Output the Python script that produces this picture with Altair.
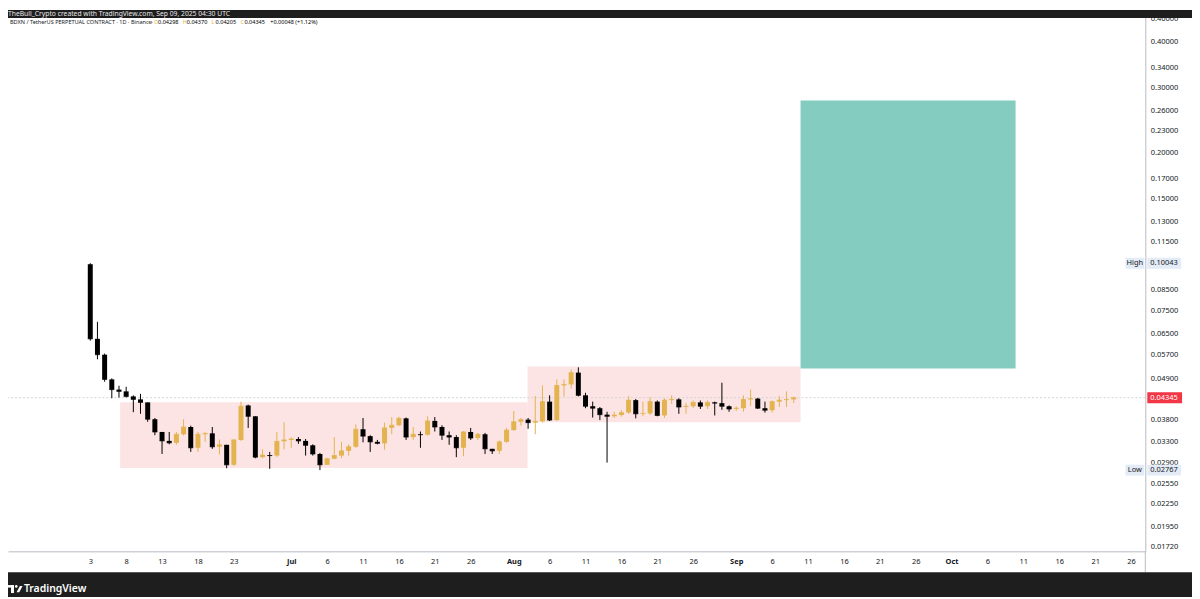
import altair as alt
import pandas as pd

# ---------------- data ----------------
START_DATE = "2025-06-03"   # first daily candle

opens = [0.0998, 0.0627, 0.0568, 0.0487, 0.0457, 0.0452, 0.0438, 0.0430, 0.0422, 0.0380,
         0.0351, 0.0332, 0.0328, 0.0346, 0.0362, 0.0318, 0.0346, 0.0348, 0.0320, 0.0324,
         0.0286, 0.0334, 0.0414, 0.0387, 0.0300, 0.0304, 0.0303, 0.0331, 0.0334, 0.0336,
         0.0332, 0.0323, 0.0306, 0.0286, 0.0297, 0.0303, 0.0312, 0.0320, 0.0357, 0.0342,
         0.0330, 0.0327, 0.0360, 0.0366, 0.0382, 0.0340, 0.0346, 0.0345, 0.0376, 0.0362,
         0.0344, 0.0340, 0.0318, 0.0351, 0.0338, 0.0346, 0.0316, 0.0312, 0.0330, 0.0355,
         0.0374, 0.0379, 0.0372, 0.0375, 0.0424, 0.0378, 0.0469, 0.0472, 0.0508, 0.0441,
         0.0412, 0.0407, 0.0391, 0.0387, 0.0390, 0.0396, 0.0428, 0.0393, 0.0394, 0.0424,
         0.0389, 0.0428, 0.0430, 0.0410, 0.0412, 0.0422, 0.0412, 0.0422, 0.0420, 0.0412,
         0.0405, 0.0407, 0.0430, 0.0432, 0.0407, 0.0402, 0.0424, 0.0428, 0.04298]
highs = [0.10043, 0.0697, 0.0572, 0.0490, 0.0468, 0.0465, 0.0441, 0.0445, 0.0422, 0.0383,
         0.0351, 0.0351, 0.0351, 0.0380, 0.0365, 0.0351, 0.0350, 0.0362, 0.0335, 0.0324,
         0.0336, 0.0424, 0.0416, 0.0387, 0.0315, 0.0310, 0.0351, 0.0373, 0.0340, 0.0340,
         0.0336, 0.0325, 0.0308, 0.0299, 0.0340, 0.0330, 0.0325, 0.0368, 0.0383, 0.0344,
         0.0334, 0.0372, 0.0385, 0.0386, 0.0384, 0.0362, 0.0352, 0.0387, 0.0385, 0.0366,
         0.0352, 0.0344, 0.0353, 0.0360, 0.0349, 0.0349, 0.0316, 0.0333, 0.0360, 0.0400,
         0.0383, 0.0383, 0.0439, 0.0469, 0.0441, 0.0487, 0.0487, 0.0518, 0.0525, 0.0448,
         0.0424, 0.0410, 0.0398, 0.0398, 0.0402, 0.0439, 0.0431, 0.0424, 0.0436, 0.0427,
         0.0433, 0.0441, 0.0433, 0.0420, 0.0427, 0.0427, 0.0427, 0.0424, 0.0477, 0.0414,
         0.0412, 0.0441, 0.0457, 0.0434, 0.0424, 0.0427, 0.0439, 0.0452, 0.04370]
lows = [0.0620, 0.0552, 0.0480, 0.0433, 0.0435, 0.0435, 0.0397, 0.0393, 0.0374, 0.0344,
        0.0306, 0.0325, 0.0324, 0.0343, 0.0310, 0.0310, 0.0330, 0.0316, 0.0305, 0.0280,
        0.0284, 0.0332, 0.0360, 0.0298, 0.0298, 0.0279, 0.0300, 0.0315, 0.0318, 0.0326,
        0.0303, 0.0303, 0.02767, 0.0286, 0.0296, 0.0298, 0.0303, 0.0318, 0.0329, 0.0310,
        0.0325, 0.0314, 0.0346, 0.0364, 0.0334, 0.0334, 0.0318, 0.0343, 0.0352, 0.0334,
        0.0324, 0.0300, 0.0302, 0.0334, 0.0334, 0.0306, 0.0306, 0.0306, 0.0328, 0.0354,
        0.0365, 0.0358, 0.0346, 0.0372, 0.0376, 0.0376, 0.0437, 0.0460, 0.0438, 0.0407,
        0.0384, 0.0378, 0.0290, 0.0383, 0.0386, 0.0393, 0.0382, 0.0387, 0.0390, 0.0387,
        0.0383, 0.0418, 0.0393, 0.0393, 0.0407, 0.0405, 0.0405, 0.0389, 0.0403, 0.0398,
        0.0400, 0.0398, 0.0412, 0.0405, 0.0396, 0.0396, 0.0410, 0.0410, 0.04205]
closes = [0.0627, 0.0568, 0.0487, 0.0457, 0.0452, 0.0438, 0.0430, 0.0422, 0.0380, 0.0351,
          0.0332, 0.0328, 0.0346, 0.0362, 0.0318, 0.0346, 0.0348, 0.0320, 0.0324, 0.0286,
          0.0334, 0.0412, 0.0387, 0.0300, 0.0304, 0.0303, 0.0331, 0.0334, 0.0336, 0.0332,
          0.0323, 0.0306, 0.0286, 0.0297, 0.0303, 0.0312, 0.0320, 0.0357, 0.0342, 0.0330,
          0.0327, 0.0360, 0.0366, 0.0382, 0.0340, 0.0346, 0.0345, 0.0376, 0.0362, 0.0344,
          0.0340, 0.0318, 0.0351, 0.0338, 0.0346, 0.0316, 0.0312, 0.0330, 0.0355, 0.0374,
          0.0379, 0.0372, 0.0375, 0.0424, 0.0378, 0.0469, 0.0472, 0.0508, 0.0441, 0.0412,
          0.0407, 0.0391, 0.0387, 0.0390, 0.0396, 0.0428, 0.0393, 0.0394, 0.0424, 0.0389,
          0.0428, 0.0430, 0.0410, 0.0412, 0.0422, 0.0412, 0.0422, 0.0420, 0.0412, 0.0405,
          0.0407, 0.0430, 0.0432, 0.0407, 0.0402, 0.0424, 0.0428, 0.04298, 0.04345]

# zone rectangles (start, end, low, high, colour)
box_start = ["2025-06-07T04:00:00Z", "2025-08-02T22:00:00Z", "2025-09-09T23:00:00Z"]
box_end = ["2025-08-02T22:00:00Z", "2025-09-09T23:00:00Z", "2025-10-09T22:00:00Z"]
box_low = [0.02805, 0.03731, 0.05211]
box_high = [0.04221, 0.05275, 0.2769]
box_color = ["#fce4e4", "#fce4e4", "#84ccbf"]

x_ticks = ["2025-06-03", "2025-06-08", "2025-06-13", "2025-06-18", "2025-06-23",
           "2025-07-01", "2025-07-06", "2025-07-11", "2025-07-16", "2025-07-21", "2025-07-26",
           "2025-08-01", "2025-08-06", "2025-08-11", "2025-08-16", "2025-08-21", "2025-08-26",
           "2025-09-01", "2025-09-06", "2025-09-11", "2025-09-16", "2025-09-21", "2025-09-26",
           "2025-10-01", "2025-10-06", "2025-10-11", "2025-10-16", "2025-10-21", "2025-10-26"]
x_domain = ["2025-05-23T05:31:00Z", "2025-10-27T07:12:00Z"]

y_ticks = [0.46, 0.40, 0.34, 0.30, 0.26, 0.23, 0.20, 0.17, 0.15, 0.13, 0.115,
           0.085, 0.075, 0.065, 0.057, 0.049, 0.038, 0.033, 0.029, 0.0255,
           0.0225, 0.0195, 0.0172]
y_domain = [0.016686, 0.4864]

range_tags = ["High", "Low"]
range_values = [0.10043, 0.02767]
last_price = 0.04345

top_note = "TheBull_Crypto created with TradingView.com, Sep 09, 2025 04:30 UTC"
symbol_title = "BDXN / TetherUS PERPETUAL CONTRACT · 1D · Binance"
ohlc_letters = ["O", "H", "L", "C"]
ohlc_values = ["0.04298", "0.04370", "0.04205", "0.04345"]
change_text = "+0.00048 (+1.12%)"
brand = "TradingView"

UP = "#e3b34f"
DOWN = "#000000"
TXT = "#131722"
DARK = "#1e1e1e"
LINE = "#b8bbc2"
W, H = 1145, 545
TOTAL_W, TOTAL_H = 1192, 591


def ms(s):
    t = pd.Timestamp(s)
    if t.tzinfo is None:
        t = t.tz_localize("UTC")
    return int(t.value // 10**6)


dates = pd.date_range(START_DATE, periods=len(opens), freq="D", tz="UTC")
candles = pd.DataFrame({
    "date": [int(d.value // 10**6) for d in dates],
    "open": opens, "high": highs, "low": lows, "close": closes,
})
candles["dir"] = ["up" if c >= o else "down" for o, c in zip(opens, closes)]

boxes = pd.DataFrame({
    "start": [ms(s) for s in box_start], "end": [ms(s) for s in box_end],
    "low": box_low, "high": box_high, "color": box_color,
})

xscale = alt.Scale(type="utc", domain=[ms(d) for d in x_domain], nice=False)
xaxis = alt.Axis(
    values=[ms(d) for d in x_ticks],
    labelExpr="utcdate(datum.value) == 1 ? utcFormat(datum.value, '%b') : toString(utcdate(datum.value))",
    labelFontWeight={"condition": {"test": "utcdate(datum.value) == 1", "value": "bold"}, "value": "normal"},
    title=None, grid=False, tickSize=0, labelPadding=6, labelFontSize=7.5,
    labelColor=TXT, labelFont="Noto Sans", domainColor=LINE, labelFlush=False,
    labelOverlap=False,
)
yscale = alt.Scale(type="log", domain=y_domain, nice=False)
yaxis = alt.Axis(
    orient="right", values=y_ticks, format=".5f", title=None, grid=False, tickSize=0,
    labelPadding=5, labelFontSize=7.5, labelColor=TXT, labelFont="Noto Sans",
    domainColor=LINE, labelFlush=False, labelOverlap=False,
)


def X(f):
    return alt.X(f, type="temporal", scale=xscale, axis=xaxis)


def Y(f):
    return alt.Y(f, type="quantitative", scale=yscale, axis=yaxis)


color = alt.Color("dir:N", scale=alt.Scale(domain=["up", "down"], range=[UP, DOWN]), legend=None)

zones = alt.Chart(boxes).mark_rect().encode(
    x=X("start"), x2="end", y=Y("low"), y2="high",
    color=alt.Color("color:N", scale=None),
)

last_df = pd.DataFrame({"price": [last_price], "label": [f"{last_price:.5f}"]})
last_line = alt.Chart(last_df).mark_rule(color="#d4d4d4", strokeDash=[2, 2], strokeWidth=1).encode(
    y=Y("price"))

wicks = alt.Chart(candles).mark_rule(strokeWidth=1).encode(
    x=X("date"), y=Y("low"), y2="high", color=color)
bodies = alt.Chart(candles).mark_bar(size=5).encode(
    x=X("date"), y=Y("open"), y2="close", color=color)
doji = alt.Chart(candles).mark_tick(orient="horizontal", size=5, thickness=1).encode(
    x=X("date"), y=Y("close"), color=color)

# right-axis price tags
tags = pd.DataFrame({"price": range_values, "tag": range_tags})
tag_box = alt.Chart(tags).mark_rule(strokeWidth=11, color="#e3ebf7").encode(
    y=Y("price"), x=alt.value(1125), x2=alt.value(1144))
val_box = alt.Chart(tags).mark_rule(strokeWidth=11, color="#e3ebf7").encode(
    y=Y("price"), x=alt.value(1147), x2=alt.value(1181))
tag_txt = alt.Chart(tags).mark_text(align="center", fontSize=7.5, font="Noto Sans", color=TXT).encode(
    y=Y("price"), x=alt.value(1134.5), text="tag:N")
val_txt = alt.Chart(tags).mark_text(align="left", fontSize=7.5, font="Noto Sans", color=TXT).encode(
    y=Y("price"), x=alt.value(1150), text=alt.Text("price:Q", format=".5f"))
last_box = alt.Chart(last_df).mark_rule(strokeWidth=11, color="#f23645").encode(
    y=Y("price"), x=alt.value(1147), x2=alt.value(1182))
last_txt = alt.Chart(last_df).mark_text(align="left", fontSize=7.5, font="Noto Sans", color="white").encode(
    y=Y("price"), x=alt.value(1150), text="label:N")

one = pd.DataFrame({"a": [0]})
base = alt.Chart(one)
top_strip = base.mark_rect(color=DARK).encode(
    x=alt.value(0), x2=alt.value(TOTAL_W), y=alt.value(0), y2=alt.value(8))
top_txt = base.mark_text(align="left", baseline="middle", fontSize=6.8, font="Noto Sans",
                         color="#e8e8e8", text=top_note).encode(x=alt.value(0), y=alt.value(4))
title_txt = base.mark_text(align="left", baseline="middle", fontSize=5.6, font="Noto Sans",
                           color=TXT, text=symbol_title).encode(x=alt.value(2), y=alt.value(12.5))

seg_rows = []
xpos = 147
for letter, val in zip(ohlc_letters, ohlc_values):
    seg_rows.append({"t": letter, "x": xpos, "kind": "k"})
    seg_rows.append({"t": val, "x": xpos + 4, "kind": "v"})
    xpos += 29
seg_rows.append({"t": change_text, "x": xpos + 1, "kind": "v"})
segs = pd.DataFrame(seg_rows)
ohlc_txt = alt.Chart(segs).mark_text(align="left", baseline="middle", fontSize=5.6, font="Noto Sans").encode(
    x=alt.X("x:Q", scale=None), y=alt.value(12.5), text="t:N",
    color=alt.Color("kind:N", scale=alt.Scale(domain=["k", "v"], range=[TXT, "#c2a566"]), legend=None))
dot = base.mark_point(filled=True, size=8, color="#9aa0a6", opacity=1).encode(
    x=alt.value(144), y=alt.value(12.5))

axis_ext = base.mark_rule(color=LINE).encode(x=alt.value(W), y=alt.value(H), y2=alt.value(566))
bottom_strip = base.mark_rect(color=DARK).encode(
    x=alt.value(0), x2=alt.value(TOTAL_W), y=alt.value(566), y2=alt.value(TOTAL_H))
logo_bar = base.mark_rect(color="white").encode(
    x=alt.value(0), x2=alt.value(6), y=alt.value(579), y2=alt.value(581.5))
logo_stem = base.mark_rect(color="white").encode(
    x=alt.value(3), x2=alt.value(6), y=alt.value(579), y2=alt.value(587))
logo_dot = base.mark_point(filled=True, size=7, color="white", opacity=1).encode(
    x=alt.value(8.3), y=alt.value(580.3))
logo_v = base.mark_point(filled=True, size=40, color="white", opacity=1,
                         shape="M0.15,-1 L1,-1 L-0.05,1 L-0.9,1 Z").encode(
    x=alt.value(11.5), y=alt.value(583))
brand_txt = base.mark_text(align="left", baseline="middle", fontSize=10.5, font="Noto Sans",
                           fontWeight=600, color="white", text=brand).encode(
    x=alt.value(16), y=alt.value(583))

chart = alt.layer(
    zones, last_line, wicks, bodies, doji,
    tag_box, val_box, tag_txt, val_txt, last_box, last_txt,
    top_strip, top_txt, title_txt, ohlc_txt, dot,
    axis_ext, bottom_strip, logo_bar, logo_stem, logo_dot, logo_v, brand_txt,
).properties(
    width=W, height=H,
    autosize=alt.AutoSizeParams(type="none"),
    padding={"left": 0, "top": 0, "right": TOTAL_W - W, "bottom": TOTAL_H - H},
    background="white",
).configure_view(stroke=None)

chart.save("out.html", embed_options={"renderer": "svg", "actions": False})
